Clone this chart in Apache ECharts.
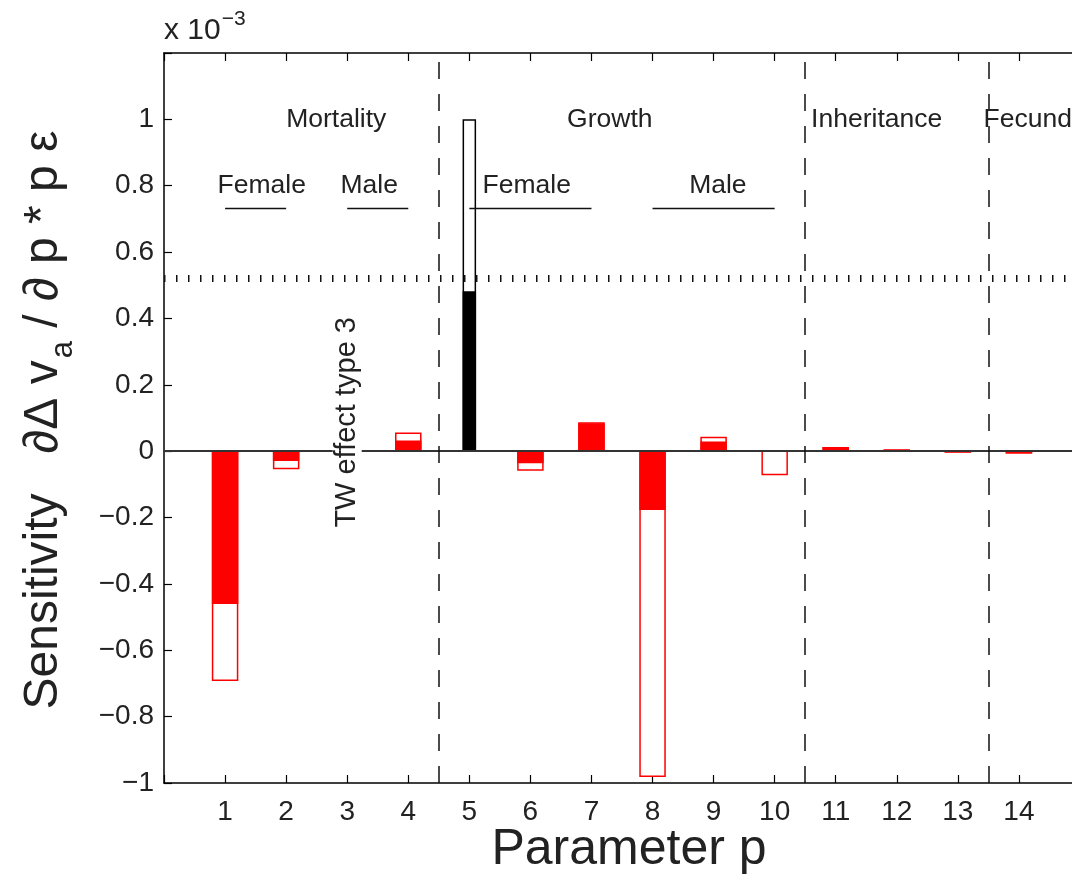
<!DOCTYPE html>
<html>
<head>
<meta charset="utf-8">
<script src="https://cdn.jsdelivr.net/npm/echarts@6/dist/echarts.min.js"></script>
<style>
html, body { margin: 0; padding: 0; background: #fff; }
#main { width: 1072px; height: 880px; }
</style>
</head>
<body>
<div id="main"></div>
<script>
// parameter index on the x axis
var params = [1, 2, 3, 4, 5, 6, 7, 8, 9, 10, 11, 12, 13, 14];
// filled part of each bar (x 10^-3)
var filledPart = [-0.458, -0.027, 0, 0.030, 0.480, -0.034, 0.082, -0.175, 0.027, 0, 0.010, 0.003, -0.002, -0.005];
// outlined total of each bar (x 10^-3)
var totalPart = [-0.690, -0.052, 0, 0.054, 0.998, -0.057, 0.085, -0.980, 0.041, -0.070, 0.010, 0.003, -0.002, -0.005];

// group headings
var groupNames = ['Mortality', 'Growth', 'Inheritance', 'Fecundity'];
var groupAt = [2.82, 7.3, 11.67, 13.42];
var sexNames = ['Female', 'Male', 'Female', 'Male'];
var sexAt = [1.6, 3.36, 5.94, 9.07];
var sexSpans = [[1, 2], [3, 4], [5, 7], [8, 10]];
var dividers = [4.5, 10.5, 13.5];
var threshold = 0.524;
var twNote = 'TW effect type 3';

var FONT = '"Liberation Sans", Arial, Helvetica, sans-serif';

function fmtY(v) {
  var r = Math.round(v * 10) / 10;
  if (r > 1.05) return '';
  return String(r).replace('-', '\u2212');
}

var barData = params.map(function (p, i) {
  return [p, filledPart[i], totalPart[i]];
});

// text annotations in data coordinates
var notes = [];
groupNames.forEach(function (t, i) {
  notes.push({ value: [groupAt[i], 1.0], text: t, left: t === 'Fecundity' });
});
sexNames.forEach(function (t, i) { notes.push({ value: [sexAt[i], 0.8], text: t }); });
notes.push({ value: [3, 0.087], text: twNote, rotate: true });

function renderBar(p, api) {
  var x = api.value(0), fill = api.value(1), total = api.value(2);
  var black = x === 5;
  var w = black ? 12 : 25;
  var color = black ? '#000' : '#ff0000';
  var base = api.coord([x, 0]);
  var pt = api.coord([x, total]);
  var pf = api.coord([x, fill]);
  var kids = [];
  kids.push({
    type: 'rect',
    shape: { x: base[0] - w / 2, y: Math.min(base[1], pt[1]), width: w, height: Math.abs(pt[1] - base[1]) },
    style: { fill: '#fff', stroke: color, lineWidth: 1.5 }
  });
  if (fill !== 0) {
    kids.push({
      type: 'rect',
      shape: { x: base[0] - w / 2, y: Math.min(base[1], pf[1]), width: w, height: Math.abs(pf[1] - base[1]) },
      style: { fill: color, stroke: color, lineWidth: 1.5 }
    });
  }
  return { type: 'group', children: kids };
}

function renderNote(p, api) {
  var n = notes[p.dataIndex];
  var c = api.coord([api.value(0), api.value(1)]);
  return {
    type: 'text',
    x: c[0],
    y: c[1],
    rotation: n.rotate ? Math.PI / 2 : 0,
    style: {
      text: n.text,
      font: (n.rotate ? '29px ' : '26.5px ') + FONT,
      fill: '#222',
      align: n.left ? 'left' : 'center',
      verticalAlign: 'middle',
      backgroundColor: n.rotate ? '#fff' : null,
      padding: n.rotate ? [0, 4] : 0
    }
  };
}

var markData = [
  { yAxis: 0, lineStyle: { color: '#333', width: 2, type: 'solid' } },
  { yAxis: threshold, lineStyle: { color: '#111', width: 7, type: [1.5, 10.5] } }
];
dividers.forEach(function (d) {
  markData.push({ xAxis: d, lineStyle: { color: '#111', width: 1.5, type: [17, 15] } });
});
sexSpans.forEach(function (s) {
  markData.push([
    { coord: [s[0], 0.732], lineStyle: { color: '#111', width: 1.3, type: 'solid' } },
    { coord: [s[1], 0.732] }
  ]);
});

var axisLine = { show: true, onZero: false, lineStyle: { color: '#000', width: 1.5 } };
var axisTick = { show: true, inside: true, length: 8, lineStyle: { color: '#000', width: 1.2 } };

var options = {
  backgroundColor: '#fff',
  animation: false,
  grid: { left: 164, top: 53, width: 916, height: 730, outerBoundsMode: 'none', containLabel: false },
  xAxis: [
    {
      type: 'value', min: 0, max: 15, interval: 1, position: 'bottom',
      axisLine: axisLine, axisTick: axisTick, splitLine: { show: false },
      axisLabel: {
        fontSize: 28, fontFamily: FONT, color: '#222', margin: 15,
        formatter: function (v) { return v >= 1 && v <= 14 ? String(v) : ''; }
      }
    },
    {
      type: 'value', min: 0, max: 15, interval: 1, position: 'top',
      axisLine: axisLine, axisTick: axisTick, splitLine: { show: false },
      axisLabel: { show: false }
    }
  ],
  yAxis: [
    {
      type: 'value', min: -1, max: 1.2, interval: 0.2, position: 'left',
      axisLine: axisLine, axisTick: axisTick, splitLine: { show: false },
      axisLabel: { fontSize: 28, fontFamily: FONT, color: '#222', margin: 10, formatter: fmtY }
    },
    {
      type: 'value', min: -1, max: 1.2, interval: 0.2, position: 'right',
      axisLine: axisLine, axisTick: axisTick, splitLine: { show: false },
      axisLabel: { show: false }
    }
  ],
  graphic: [
    {
      type: 'text', x: 629, y: 850,
      style: { text: 'Parameter p', font: '50px ' + FONT, fill: '#222', align: 'center', verticalAlign: 'middle' }
    },
    {
      type: 'text', x: 44, y: 420, rotation: Math.PI / 2,
      style: {
        text: '{n|Sensitivity   \u2202\u0394 v}{s|a}{n| / \u2202 p * p \u03b5}',
        align: 'center', verticalAlign: 'middle',
        rich: {
          n: { font: '48px ' + FONT, fill: '#222', lineHeight: 52 },
          s: { font: '31px ' + FONT, fill: '#222', lineHeight: 31, padding: [38, 0, 0, 2] }
        }
      }
    },
    {
      type: 'text', x: 164, y: 31,
      style: {
        text: '{n|x 10}{s|\u22123}',
        verticalAlign: 'middle',
        rich: {
          n: { font: '30px ' + FONT, fill: '#222', lineHeight: 34 },
          s: { font: '21px ' + FONT, fill: '#222', lineHeight: 22, padding: [0, 0, 24, 1] }
        }
      }
    }
  ],
  series: [
    {
      name: 'sensitivity',
      type: 'custom',
      coordinateSystem: 'cartesian2d',
      z: 2,
      data: barData,
      renderItem: renderBar,
      markLine: {
        silent: true,
        symbol: ['none', 'none'],
        label: { show: false },
        z: 4,
        data: markData
      }
    },
    {
      name: 'notes',
      type: 'custom',
      coordinateSystem: 'cartesian2d',
      z: 10,
      clip: false,
      data: notes,
      renderItem: renderNote
    }
  ]
};

var chart = echarts.init(document.getElementById('main'));
chart.setOption(options);
</script>
</body>
</html>
